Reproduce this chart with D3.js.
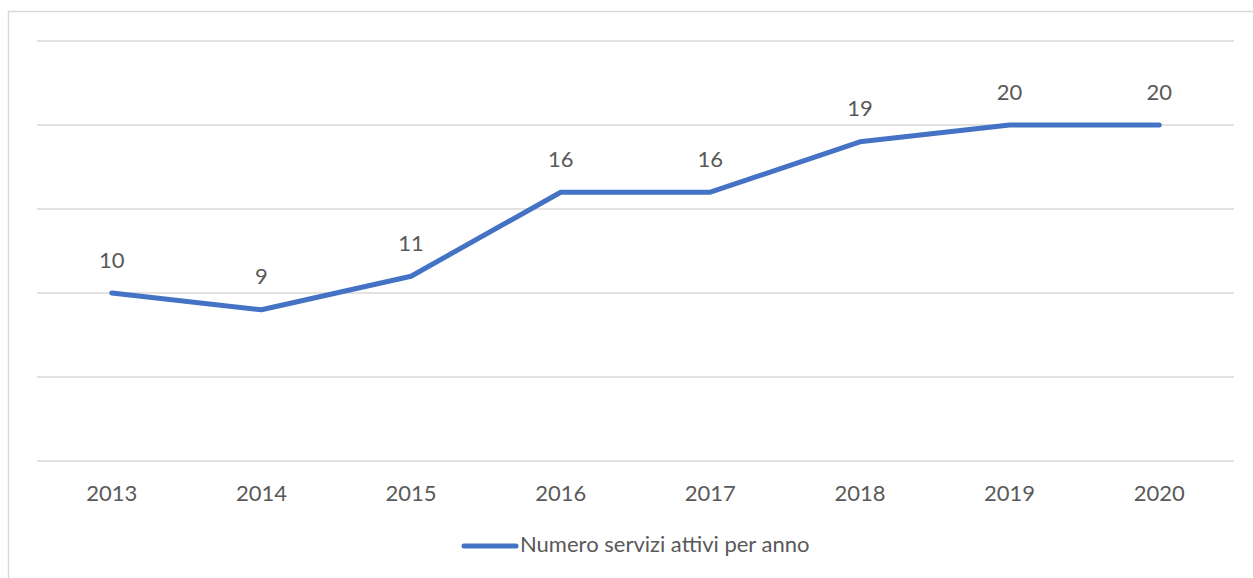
<!DOCTYPE html>
<html>
<head>
<meta charset="utf-8">
<script src="https://cdn.jsdelivr.net/npm/d3@7"></script>
<style>
  body { margin: 0; background: #fff; }
  svg text { font-family: Lato, "Open Sans", sans-serif; fill: #595959; }
</style>
</head>
<body>
<div class="chart"></div>
<script>
const years = ['2013','2014','2015','2016','2017','2018','2019','2020'];
const services = [10, 9, 11, 16, 16, 19, 20, 20];
const yTicks = [0, 5, 10, 15, 20, 25];
const seriesName = 'Numero servizi attivi per anno';

const svgWidth = 1253, svgHeight = 578;
const margin = {top: 41, right: 19, bottom: 117, left: 37},
  width = svgWidth - margin.left - margin.right,
  height = svgHeight - margin.top - margin.bottom;

let svg = d3.select(".chart").append("svg")
    .attr("width", svgWidth)
    .attr("height", svgHeight);

// outer border
svg.append("rect")
    .attr("x", 8.5).attr("y", 11.5)
    .attr("width", svgWidth).attr("height", svgHeight)
    .attr("fill", "none")
    .attr("stroke", "#d9d9d9")
    .attr("stroke-width", 1.5);

let g = svg.append("g")
    .attr("transform", "translate(" + margin.left + "," + margin.top + ")");

const x = d3.scaleBand().domain(years).range([0, width]);
const y = d3.scaleLinear().domain([0, 25]).range([height, 0]);

// gridlines
g.selectAll(".grid")
    .data(yTicks)
    .enter().append("line")
    .attr("x1", 0).attr("x2", width)
    .attr("y1", d => y(d)).attr("y2", d => y(d))
    .attr("stroke", "#d9d9d9")
    .attr("stroke-width", 1.5);

// x axis labels
const xAxis = d3.axisBottom(x).tickSize(0).tickPadding(24);
let xg = g.append("g")
    .attr("transform", "translate(0," + height + ")")
    .call(xAxis);
xg.select(".domain").remove();
xg.selectAll("text")
    .style("font-family", "Lato, sans-serif")
    .style("font-size", "22px")
    .attr("fill", "#595959");

// line
const line = d3.line()
    .x((d, i) => x(years[i]) + x.bandwidth() / 2)
    .y(d => y(d));

g.append("path")
    .datum(services)
    .attr("d", line)
    .attr("fill", "none")
    .attr("stroke", "#4472c4")
    .attr("stroke-width", 5)
    .attr("stroke-linejoin", "round")
    .attr("stroke-linecap", "round");

// data labels
g.selectAll(".label")
    .data(services)
    .enter().append("text")
    .attr("x", (d, i) => x(years[i]) + x.bandwidth() / 2)
    .attr("y", d => y(d) - 31)
    .attr("text-anchor", "middle")
    .attr("dominant-baseline", "middle")
    .style("font-size", "22px")
    .attr("fill", "#404040")
    .text(d => d);

// legend
let legend = svg.append("g");
legend.append("line")
    .attr("x1", 464).attr("x2", 516)
    .attr("y1", 546).attr("y2", 546)
    .attr("stroke", "#4472c4")
    .attr("stroke-width", 5)
    .attr("stroke-linecap", "round");
legend.append("text")
    .attr("x", 520).attr("y", 546)
    .attr("dominant-baseline", "middle")
    .style("font-size", "22px")
    .text(seriesName);
</script>
</body>
</html>
